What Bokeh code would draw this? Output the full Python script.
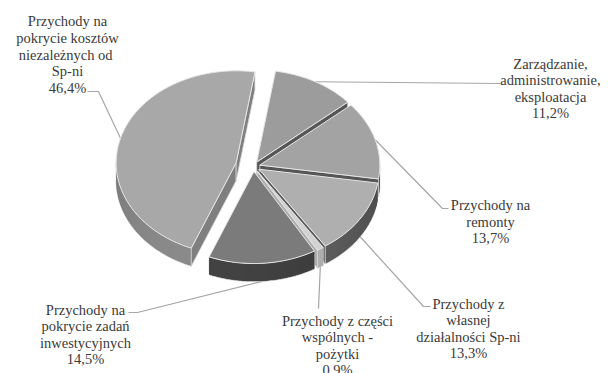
import numpy as np
from bokeh.plotting import figure
from bokeh.models import Range1d, ColumnDataSource
from bokeh.embed import file_html
from bokeh.resources import INLINE

# --- data -------------------------------------------------------------
categories = [
    "Zarządzanie,\nadministrowanie,\neksploatacja",
    "Przychody na\nremonty",
    "Przychody z\nwłasnej\ndziałalności Sp-ni",
    "Przychody z części\nwspólnych -\npożytki",
    "Przychody na\npokrycie zadań\ninwestycyjnych",
    "Przychody na\npokrycie kosztów\nniezależnych  od\nSp-ni",
]
shares = [11.2, 13.7, 13.3, 0.9, 14.5, 46.4]

# --- styling ----------------------------------------------------------
top_colors = ["#9c9c9c", "#a3a3a3", "#afafaf", "#d2d2d2", "#7b7b7b", "#a8a8a8"]
side_colors = ["#5e5e5e", "#5c5c5c", "#646464", "#bcbcbc", "#424242", "#8a8a8a"]
explode = [0.055, 0.055, 0.055, 0.055, 0.055, 0.15]

CX, CY = 253.0, 166.0      # pie centre (screen units, y grows downward)
RX, RY = 120.0, 92.0       # ellipse radii of the tilted disc
DEPTH = 18.0               # thickness of the disc
START = 9.0                # first slice begins 9 deg clockwise from 12 o'clock
FONT = "Liberation Serif"
LINE_H = 16.6

# label block centres and leader paths (label side)
label_xy = [(550, 88), (490, 221), (468, 328), (337, 345), (85, 334), (67, 54)]
leader_tail = [
    [(500, 83)],
    [(442, 208), (448, 208)],
    [(423, 306), (430, 306)],
    [(318, 308)],
    [(137, 312), (128, 312)],
    [(98, 91), (87, 91)],
]
leader_on_side = [False, False, True, True, True, False]


def rim(cx, cy, a):
    r = np.radians(a)
    return cx + RX * np.sin(r), cy - RY * np.cos(r)


def shade(hex_color, f):
    c = [int(hex_color[i:i + 2], 16) for i in (1, 3, 5)]
    c = [max(0, min(255, int(round(v * f)))) for v in c]
    return "#%02x%02x%02x" % tuple(c)


total = sum(shares)
angles = []
a = START
for v in shares:
    a1 = a + 360.0 * v / total
    angles.append((a, a1))
    a = a1

xs, ys, fills, lines, widths, alphas = [], [], [], [], [], []


def add(px, py, fill, line, w, la=1.0):
    xs.append(list(px))
    ys.append(list(py))
    fills.append(fill)
    lines.append(line)
    widths.append(w)
    alphas.append(la)


centres = []
for i, (a0, a1) in enumerate(angles):
    mid = np.radians((a0 + a1) / 2)
    cx = CX + explode[i] * RX * np.sin(mid)
    cy = CY - explode[i] * RY * np.cos(mid)
    centres.append((cx, cy))

# paint back slices first
order = sorted(range(len(shares)),
               key=lambda i: -np.cos(np.radians(sum(angles[i]) / 2)))

for i in order:
    a0, a1 = angles[i]
    cx, cy = centres[i]
    wall = side_colors[i]

    # outer curved side, visible for the front half of the disc
    for lo, hi in ((90, 270), (450, 630)):
        s, e = max(a0, lo), min(a1, hi)
        if e > s:
            # base band, then overlapping shaded bands on top of it
            t = np.linspace(s, e, 60)
            px, py = rim(cx, cy, t)
            add(np.concatenate([px, px[::-1]]),
                np.concatenate([py, py[::-1] + DEPTH]), shade(wall, 0.9), "#cfcfcf", 0.8)
            n = max(1, int(np.ceil((e - s) / 3.0)))
            edges = np.linspace(s, e, n + 1)
            for k in range(n):
                lo_k = edges[k]
                hi_k = min(e, edges[k + 1] + (edges[k + 1] - edges[k]) * 0.6)
                t = np.linspace(lo_k, hi_k, 5)
                px, py = rim(cx, cy, t)
                am = (edges[k] + edges[k + 1]) / 2
                f = 0.8 + 0.2 * np.cos(np.radians(am - 200))
                add(np.concatenate([px, px[::-1]]),
                    np.concatenate([py + 0.6, py[::-1] + DEPTH - 0.6]),
                    shade(wall, f), None, 0, 0.0)

    # radial walls of the exploded slice
    for ang, visible in ((a0, np.sin(np.radians(a0)) < 0),
                         (a1, np.sin(np.radians(a1)) > 0)):
        if visible:
            ex, ey = rim(cx, cy, ang)
            col = shade(wall, 0.92)
            add([cx, ex, ex, cx], [cy, ey, ey + DEPTH, cy + DEPTH], col, "#d8d8d8", 0.8)

    # top face
    t = np.linspace(a0, a1, max(3, int((a1 - a0) / 1.0) + 1))
    px, py = rim(cx, cy, t)
    add(np.concatenate([[cx], px]), np.concatenate([[cy], py]),
        top_colors[i], "#e6e6e6", 1.0)

p = figure(width=608, height=373, x_range=Range1d(0, 608), y_range=Range1d(373, 0),
           output_backend="svg", toolbar_location=None, min_border=0,
           x_axis_location=None, y_axis_location=None)
p.grid.visible = False
p.outline_line_color = None
p.background_fill_color = "white"
p.border_fill_color = "white"

# leader lines, from the slice rim to the label
for i, (a0, a1) in enumerate(angles):
    cx, cy = centres[i]
    ax, ay = rim(cx, cy, (a0 + a1) / 2)
    if leader_on_side[i]:
        ay += DEPTH
    path = [(ax, ay)] + leader_tail[i]
    p.line([q[0] for q in path], [q[1] for q in path], line_color="#a6a6a6", line_width=1.2)

p.patches(xs, ys, fill_color=fills, line_color=[c if c else "white" for c in lines],
          line_width=widths, line_alpha=alphas)

# labels: one text item per line so every line keeps the serif face
pct = [("%.1f" % v).replace(".", ",") + "%" for v in shares]
tx, ty, tt = [], [], []
for (lx, ly), cat, pc in zip(label_xy, categories, pct):
    rows = cat.split("\n") + [pc]
    n = len(rows)
    for k, row in enumerate(rows):
        tx.append(lx)
        ty.append(ly + (k - (n - 1) / 2) * LINE_H)
        tt.append(row)
src = ColumnDataSource(dict(x=tx, y=ty, t=tt, f=[FONT] * len(tt)))
p.text("x", "y", text="t", text_font="f", source=src, text_align="center",
       text_baseline="middle", text_font_size="14.5px", text_color="#3a3a3a")

open("out.html", "w").write(file_html(p, INLINE))
